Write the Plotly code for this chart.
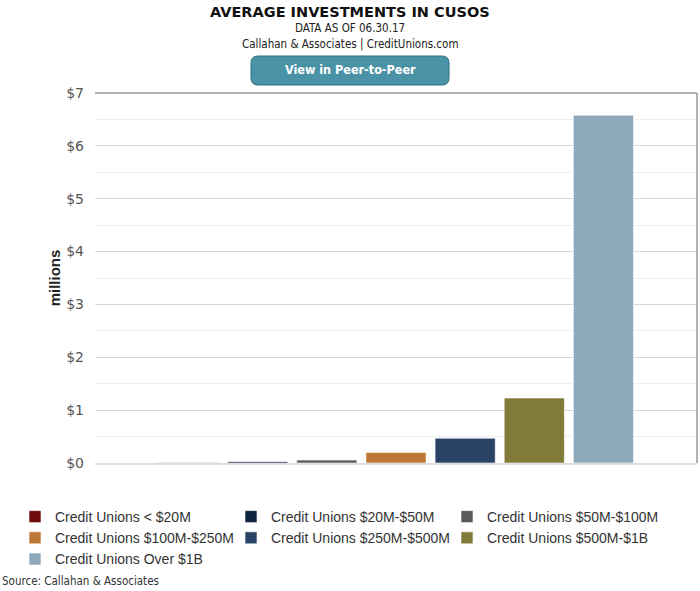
import plotly.graph_objects as go

series_names = [
    "Credit Unions < $20M",
    "Credit Unions $20M-$50M",
    "Credit Unions $50M-$100M",
    "Credit Unions $100M-$250M",
    "Credit Unions $250M-$500M",
    "Credit Unions $500M-$1B",
    "Credit Unions Over $1B",
]
values = [0.003, 0.025, 0.055, 0.20, 0.47, 1.23, 6.58]
colors = ["#6F0B0B", "#0F2340", "#5A5A5A", "#BC7834", "#284366", "#817A38", "#8EA8BC"]
tick_vals = [0, 1, 2, 3, 4, 5, 6, 7]
tick_text = ["$0", "$1", "$2", "$3", "$4", "$5", "$6", "$7"]

fig = go.Figure()
for name, v, c in zip(series_names, values, colors):
    fig.add_trace(go.Bar(
        x=[""], y=[v], name=name,
        marker=dict(color=c, line=dict(color="rgba(255,255,255,0.6)", width=1)),
    ))

W, H = 700, 591
L, R, T, B = 95, 3, 93, 128
PW, PH = W - L - R, H - T - B


def px_x(p):
    return (p - L) / PW


def px_y(p):
    return (H - B - p) / PH


fig.update_layout(
    width=W, height=H,
    margin=dict(l=L, r=R, t=T, b=B, autoexpand=False),
    paper_bgcolor="white", plot_bgcolor="white",
    barmode="group", bargap=0.196, bargroupgap=0.13,
    font=dict(family="DejaVu Sans", color="#333"),
    showlegend=True,
    legend=dict(
        orientation="h", xref="paper", yref="paper",
        x=px_x(15), y=px_y(501), xanchor="left", yanchor="top",
        entrywidth=171, entrywidthmode="pixels",
        font=dict(family="Liberation Sans", size=14, color="#333"),
        itemwidth=30, tracegroupgap=0, bgcolor="rgba(0,0,0,0)",
    ),
    xaxis=dict(showticklabels=False, showgrid=False, showline=True,
               linecolor="#DDDDDD", linewidth=2, zeroline=False, fixedrange=True),
    yaxis=dict(
        range=[0, 7], tickvals=tick_vals, ticktext=tick_text,
        showgrid=True, gridcolor="#D8D8D8", gridwidth=1,
        minor=dict(dtick=0.5, showgrid=True, gridcolor="#EEEEEE", gridwidth=1),
        zeroline=False, showline=False,
        tickfont=dict(family="DejaVu Sans", size=14, color="#555"),
        ticklabelstandoff=10,
        title=dict(text="<b>millions</b>", font=dict(family="Liberation Sans", size=15, color="#222"), standoff=1),
    ),
    shapes=[
        dict(type="line", xref="paper", yref="paper", x0=0, x1=1, y0=1, y1=1,
             line=dict(color="#999999", width=1.5)),
        dict(type="line", xref="paper", yref="paper", x0=1, x1=1, y0=0, y1=1,
             line=dict(color="#999999", width=1.5)),
    ],
    annotations=[
        dict(text="<b>AVERAGE INVESTMENTS IN CUSOS</b>", xref="paper", yref="paper",
             x=px_x(350), y=px_y(12), xanchor="center", yanchor="middle", showarrow=False,
             font=dict(family="DejaVu Sans", size=14.5, color="#111")),
        dict(text="DATA AS OF 06.30.17", xref="paper", yref="paper",
             x=px_x(350), y=px_y(28), xanchor="center", yanchor="middle", showarrow=False,
             font=dict(family="DejaVu Sans Condensed, DejaVu Sans", size=11.5, color="#222")),
        dict(text="Callahan &amp; Associates | CreditUnions.com", xref="paper", yref="paper",
             x=px_x(350), y=px_y(44), xanchor="center", yanchor="middle", showarrow=False,
             font=dict(family="DejaVu Sans Condensed, DejaVu Sans", size=11.5, color="#222")),
        dict(text="<b>View in Peer-to-Peer</b>", xref="paper", yref="paper",
             x=px_x(350), y=px_y(70), xanchor="center", yanchor="middle", showarrow=False,
             font=dict(family="DejaVu Sans Condensed, DejaVu Sans", size=12.5, color="white")),
        dict(text="Source: Callahan &amp; Associates", xref="paper", yref="paper",
             x=px_x(0), y=px_y(581), xanchor="left", yanchor="middle", showarrow=False,
             font=dict(family="DejaVu Sans Condensed, DejaVu Sans", size=11.5, color="#333")),
    ],
)

# Rounded button background
bx0, bx1, by0, by1 = 251, 449, 56, 85
r = 7
path = (f"M {px_x(bx0 + r)} {px_y(by0)} L {px_x(bx1 - r)} {px_y(by0)} "
        f"Q {px_x(bx1)} {px_y(by0)} {px_x(bx1)} {px_y(by0 + r)} "
        f"L {px_x(bx1)} {px_y(by1 - r)} Q {px_x(bx1)} {px_y(by1)} {px_x(bx1 - r)} {px_y(by1)} "
        f"L {px_x(bx0 + r)} {px_y(by1)} Q {px_x(bx0)} {px_y(by1)} {px_x(bx0)} {px_y(by1 - r)} "
        f"L {px_x(bx0)} {px_y(by0 + r)} Q {px_x(bx0)} {px_y(by0)} {px_x(bx0 + r)} {px_y(by0)} Z")
fig.add_shape(type="path", xref="paper", yref="paper", path=path,
              fillcolor="#4A93A6", line=dict(color="#2F6F80", width=1), layer="below")

fig.write_html(
    "out.html",
    config={"displayModeBar": False},
    post_script="document.body.style.margin='0';document.body.style.overflow='hidden';",
)
